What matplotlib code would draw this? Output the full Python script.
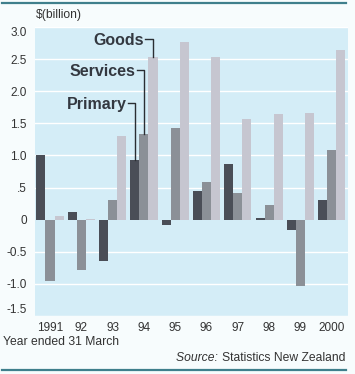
import matplotlib
matplotlib.use("Agg")
import matplotlib.pyplot as plt
import numpy as np

plt.rcParams['font.family'] = ['Liberation Sans', 'DejaVu Sans']

years = ["1991", "92", "93", "94", "95", "96", "97", "98", "99", "2000"]
primary = [1.00, 0.12, -0.65, 0.93, -0.08, 0.44, 0.86, 0.03, -0.16, 0.31]
services = [-0.96, -0.79, 0.31, 1.33, 1.42, 0.59, 0.41, 0.23, -1.03, 1.08]
goods = [0.05, 0.01, 1.31, 2.53, 2.76, 2.54, 1.56, 1.64, 1.66, 2.64]
series_names = ["Primary", "Services", "Goods"]
yticks = [-1.5, -1.0, -0.5, 0, 0.5, 1.0, 1.5, 2.0, 2.5, 3.0]
ytick_labels = ["-1.5", "-1.0", "-0.5", "0", ".5", "1.0", "1.5", "2.0", "2.5", "3.0"]

W, H = 355, 374
fig = plt.figure(figsize=(W / 100, H / 100), dpi=100)
fig.patch.set_facecolor('#f7fcfd')

ax = fig.add_axes([35 / W, (H - 316) / H, 313 / W, 289 / H])
ax.set_facecolor('#d4edf7')

colors = ['#4a4e57', '#8b9097', '#c6c6d0']
bw = 0.29
x = np.arange(len(years))
data = [primary, services, goods]
for i, (vals, c) in enumerate(zip(data, colors)):
    ax.bar(x + (i - 1) * bw, vals, width=bw, color=c, zorder=3, linewidth=0)

ax.set_xlim(-0.48, 9.52)
ax.set_ylim(-1.5, 3.0)
ax.set_yticks(yticks)
ax.set_yticklabels(ytick_labels)
ax.set_xticks(x)
ax.set_xticklabels(years)
ax.tick_params(length=0, labelsize=8.5, colors='#333333', pad=4)
ax.tick_params(axis='y', pad=6)
for t in ax.get_yticklabels():
    if t.get_text() == "-1.5":
        t.set_va('bottom')
    if t.get_text() == "3.0":
        t.set_va('top')
for yv in yticks:
    if yv != 0:
        ax.axhline(yv, color='white', lw=1.0, zorder=1)
for s in ax.spines.values():
    s.set_visible(False)

# labels with leader lines to 1994 bars
gi = 3
label_pos = [(2.45, 1.79), (2.74, 2.31), (3.00, 2.79)]
for i, (name, (tx, ty)) in enumerate(zip(series_names, label_pos)):
    bx = gi + (i - 1) * bw
    top = data[i][gi]
    ax.text(tx, ty, name, ha='right', va='center', fontsize=11.5,
            fontweight='bold', color='#333840', zorder=5)
    ax.plot([tx + 0.03, bx, bx], [ty + 0.02, ty + 0.02, top],
            color='#2a2e33', lw=1.0, zorder=4)

fig.text(36 / W, 1 - 15 / H, "$(billion)", fontsize=8.7, color='#333333',
         ha='left', va='center')
fig.text(3 / W, 1 - 342 / H, "Year ended 31 March", fontsize=8.7,
         color='#333333', ha='left', va='center')
fig.text(345 / W, 1 - 358 / H, "Statistics New Zealand", fontsize=8.7,
         color='#333333', ha='right', va='center')
src = fig.text(0, 0, "Source: ", fontsize=8.7, style='italic', color='#333333')
fig.canvas.draw()
r = fig.canvas.get_renderer()
main = fig.texts[-2]
bb = main.get_window_extent(r)
sb = src.get_window_extent(r)
src.set_position(((bb.x0 - sb.width) / W, 1 - 358 / H))
src.set_va('center')
src.set_ha('left')

# top and bottom rules
fig.add_artist(plt.Line2D([2 / W, 346 / W], [1 - 3 / H, 1 - 3 / H],
                          color='#3f7f8c', lw=1.6))
fig.add_artist(plt.Line2D([2 / W, 346 / W], [1 - 370 / H, 1 - 370 / H],
                          color='#3f7f8c', lw=1.6))

fig.savefig("out.png", dpi=100, facecolor=fig.get_facecolor())
